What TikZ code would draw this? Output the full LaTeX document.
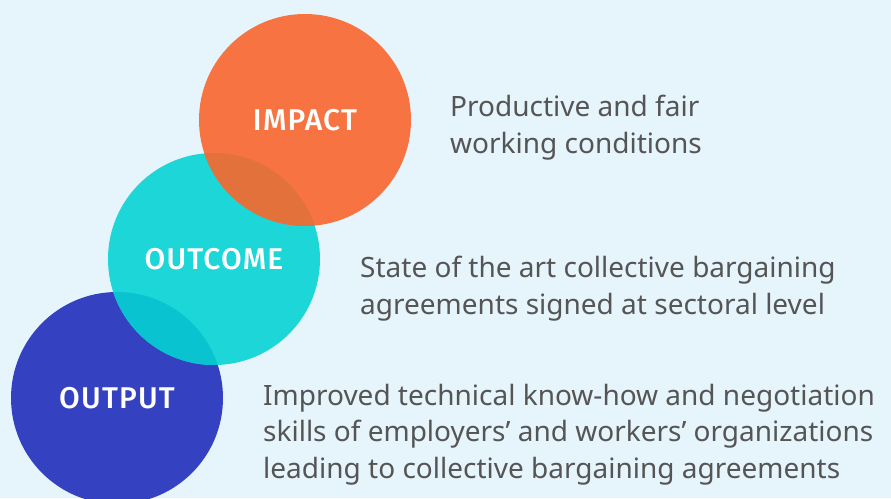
\documentclass[tikz,border=0pt]{standalone}
\usepackage{fontspec}
\setmainfont{Noto Sans}
\newfontfamily\labelfont[LetterSpace=4]{Fira Sans Medium}
\definecolor{bgblue}{HTML}{E6F4FC}
\definecolor{impactorange}{HTML}{F87342}
\definecolor{outcometeal}{HTML}{1DD6D8}
\definecolor{outputblue}{HTML}{3441C0}
\definecolor{mixbrown}{HTML}{E2713C}
\definecolor{mixteal}{HTML}{0AC3D0}
\definecolor{desctext}{HTML}{555555}
\tikzset{
  bubble/.style={circle, minimum size=212pt, inner sep=0pt, text=white,
    font=\labelfont\fontsize{30}{30}\selectfont},
  desc/.style={anchor=base west, align=left, inner sep=0pt, text=desctext,
    font=\fontsize{28}{36.5}\selectfont}
}
\begin{document}
\begin{tikzpicture}[x=1pt,y=-1pt]
    \fill[bgblue] (0,0) rectangle (891,498);
    \useasboundingbox (0,0) rectangle (891,498);

    \coordinate (c1) at (117,398);
    \coordinate (c2) at (214,259);
    \coordinate (c3) at (305,120);

    \node[bubble, fill=outputblue] (output) at (c1) {OUTPUT};
    \node[bubble, fill=outcometeal] (outcome) at (c2) {OUTCOME};
    \node[bubble, fill=impactorange] (impact) at (c3) {IMPACT};

    \begin{scope}
        \clip (c2) circle (106);
        \fill[mixteal] (c1) circle (106);
        \fill[mixbrown] (c3) circle (106);
    \end{scope}

    % base anchor sits on the last line
    \node[desc] (impactdesc) at (450,153) {Productive and fair\\working conditions};
    \node[desc] (outcomedesc) at (360,314) {State of the art collective bargaining\\agreements signed at sectoral level};
    \node[desc] (outputdesc) at (263,478) {Improved technical know-how and negotiation\\skills of employers’ and workers’ organizations\\leading to collective bargaining agreements};
\end{tikzpicture}
\end{document}
